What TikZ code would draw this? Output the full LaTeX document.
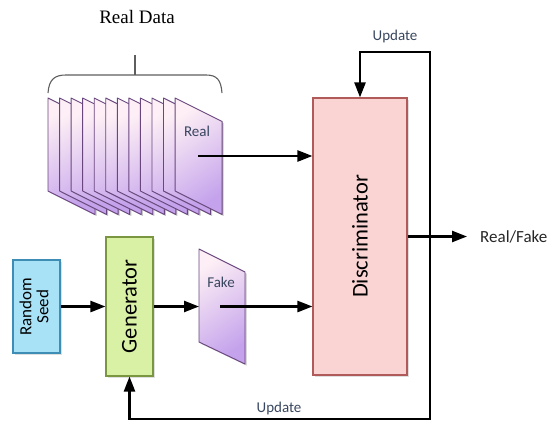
\documentclass[tikz,border=0pt]{standalone}
\usepackage{fontspec}
\usepackage{graphicx}
\setmainfont{Carlito}
\newfontfamily\titlefont{Liberation Serif}
\usetikzlibrary{arrows.meta,shadows}

\definecolor{discfill}{HTML}{FAD4D3}
\definecolor{discline}{HTML}{B05A5A}
\definecolor{genfill}{HTML}{D8F1A4}
\definecolor{genline}{HTML}{7A9640}
\definecolor{seedfill}{HTML}{A8E2F6}
\definecolor{seedline}{HTML}{3D8DB5}
\definecolor{sheettop}{HTML}{FDEFF5}
\definecolor{sheetbot}{HTML}{C4A2EC}
\definecolor{sheetline}{HTML}{6A467F}
\definecolor{labelink}{HTML}{38465F}
\definecolor{bracegray}{HTML}{5E5E5E}

\begin{document}
\begin{tikzpicture}[x=1pt,y=-1pt,
  box/.style={draw, line width=1.1pt, inner sep=0pt, align=center,
    drop shadow={shadow xshift=1.8pt, shadow yshift=-1.8pt, opacity=0.25}},
  sheet/.style={draw=sheetline, line width=0.9pt, line join=round,
    top color=sheettop, bottom color=sheetbot, shading angle=35,
    drop shadow={shadow xshift=1.6pt, shadow yshift=-1.6pt, opacity=0.45}},
  arr/.style={line width=2.4pt, -{Triangle[length=15pt,width=11pt]}},
  loopline/.style={line width=2.4pt, {Triangle[length=15pt,width=11pt]}-{Triangle[length=15pt,width=11pt]}},
  tag/.style={text=labelink, inner sep=0pt},
]
\useasboundingbox (0,0) rectangle (553,423);

% title and brace over the stack of real samples
\node[inner sep=0pt] (title) at (137,17) {\titlefont\fontsize{19}{22}\selectfont Real Data};
\coordinate (bracetop) at (135,55);
\draw[bracegray, line width=1.1pt]
  (48,93) .. controls (49,79) and (55,75) .. (66,75) -- (206,75)
  .. controls (217,75) and (221,80) .. (222,93);
\draw[bracegray, line width=1.1pt] (135,75) -- (bracetop);

% stack of twelve real sheets, back to front
\foreach \i in {0,...,11} {
  \pgfmathsetmacro{\xx}{48+11.55*\i}
  \path[sheet] (\xx,98) -- ++(47,23.5) -- ++(0,93) -- ++(-47,-23.5) -- cycle;
}
\node[tag] (real) at (197,131) {\fontsize{15}{17}\selectfont Real};
\coordinate (realout) at (198,156);

% fake sheet
\path[sheet] (199,249) -- (245,272) -- (245,364) -- (199,342) -- cycle;
\node[tag] (fake) at (221,282) {\fontsize{15}{17}\selectfont Fake};
\coordinate (fakein) at (199,306.5);
\coordinate (fakeout) at (220,306.5);

% processing blocks
\node[box, fill=discfill, draw=discline, minimum width=94pt, minimum height=277pt]
  (disc) at (360,236.5) {\rotatebox{90}{\fontsize{22.5}{26}\selectfont Discriminator}};
\node[box, fill=genfill, draw=genline, minimum width=47pt, minimum height=139pt]
  (gen) at (129.5,306.5) {\rotatebox{90}{\fontsize{22.5}{26}\selectfont Generator}};
\node[box, fill=seedfill, draw=seedline, minimum width=47pt, minimum height=93pt]
  (seed) at (36.5,306.5) {\rotatebox{90}{\fontsize{17}{17}\selectfont
    \begin{tabular}{@{}c@{}}Random\\Seed\end{tabular}}};

% data flow
\draw[arr] (seed.east) -- (gen.west);
\draw[arr] (gen.east) -- (fakein);
\draw[arr] (fakeout) -- (disc.west |- fakeout);
\draw[arr] (realout) -- (disc.west |- realout);

% output
\node[anchor=west, inner sep=0pt, text=black!85] (rf) at (480,236.5)
  {\fontsize{17}{20}\selectfont Real/Fake};
\draw[arr, shorten >=13pt] (disc.east) -- (rf.west);

% update feedback loop
\coordinate (topR) at (430,52);
\coordinate (botR) at (430,419);
\draw[loopline] (gen.south) |- (botR) -- (topR) -| (disc.north);
\node[tag] (updtop) at (395,37) {\fontsize{15}{18}\selectfont Update};
\node[tag] (updbot) at (279,408) {\fontsize{15}{18}\selectfont Update};
\end{tikzpicture}
\end{document}
